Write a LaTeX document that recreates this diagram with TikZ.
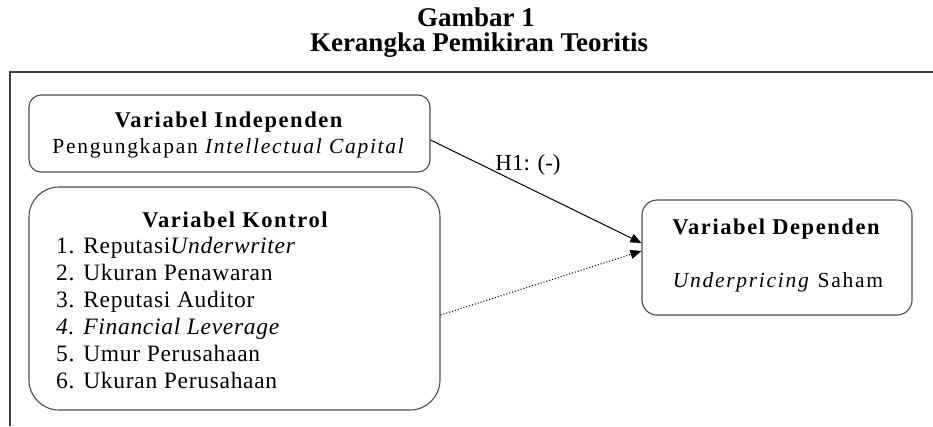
\documentclass[tikz,border=0pt]{standalone}
\usepackage{fontspec}
\setmainfont{Liberation Serif}
\newfontfamily\spacedbf[LetterSpace=7]{Liberation Serif}
\newfontfamily\widefont[LetterSpace=8]{Liberation Serif}
\newfontfamily\listfont[LetterSpace=3]{Liberation Serif}
\usetikzlibrary{arrows.meta}
\begin{document}
\begin{tikzpicture}[x=1pt,y=-1pt,
  box/.style={draw=black!70,line width=1.1pt,rectangle,inner sep=0pt},
  txt/.style={inner sep=0pt,font=\fontsize{21.5}{27}\selectfont},
  lst/.style={inner sep=0pt,font=\fontsize{23.5}{27}\selectfont\listfont},
  head/.style={inner sep=0pt,font=\fontsize{22.5}{27}\selectfont\spacedbf\bfseries},
  conn/.style={line width=1pt,-{Triangle[length=11pt,width=9pt]}}
]
\useasboundingbox (0,0) rectangle (933,426);
% title
\node[inner sep=0pt,font=\fontsize{27}{30}\selectfont\bfseries,anchor=base] (t1) at (476,26) {Gambar 1};
\node[inner sep=0pt,font=\fontsize{27}{30}\selectfont\bfseries,anchor=base] (t2) at (479,51) {Kerangka Pemikiran Teoritis};
% frame
\coordinate (fa) at (10,426);
\coordinate (fb) at (10,72);
\coordinate (fc) at (935,72);
\draw[line width=1.4pt,black!75] (fa) -- (fb) -- (fc);
% boxes
\node[box,rounded corners=12pt,minimum width=401pt,minimum height=77pt] (ind) at (229.5,133.5) {};
\node[box,rounded corners=30pt,minimum width=411pt,minimum height=223pt] (ctrl) at (234.5,298.5) {};
\node[box,rounded corners=15pt,minimum width=270pt,minimum height=115pt] (dep) at (777,257.5) {};
% independent text
\node[head,anchor=base] (indh) at (228.5,127) {Variabel Independen};
\node[txt,anchor=base] (indt) at (229,153) {\widefont Pengungkapan \textit{Intellectual Capital}};
% control text
\node[head,anchor=base] (ctrlh) at (235,227) {Variabel Kontrol};
\node[lst,anchor=north west,align=left] (ctrll) at (56,237) {1. Reputasi\textit{Underwriter}\\
2. Ukuran Penawaran\\
3. Reputasi Auditor\\
\textit{4. Financial Leverage}\\
5. Umur Perusahaan\\
6. Ukuran Perusahaan};
% dependent text
\node[head,anchor=base] (deph) at (776,234) {Variabel Dependen};
\node[txt,anchor=base] (dept) at (778,287) {\widefont\textit{Underpricing} Saham};
% connectors
\draw[conn] ([yshift=-6.5pt]ind.east) -- ([yshift=14.5pt]dep.west);
\draw[conn,dotted,line width=1.1pt] ([yshift=-16.5pt]ctrl.east) -- ([yshift=6.5pt]dep.west);
\node[txt,anchor=base,font=\fontsize{23}{27}\selectfont] (h1) at (528,170) {H1: (-)};
\end{tikzpicture}
\end{document}
